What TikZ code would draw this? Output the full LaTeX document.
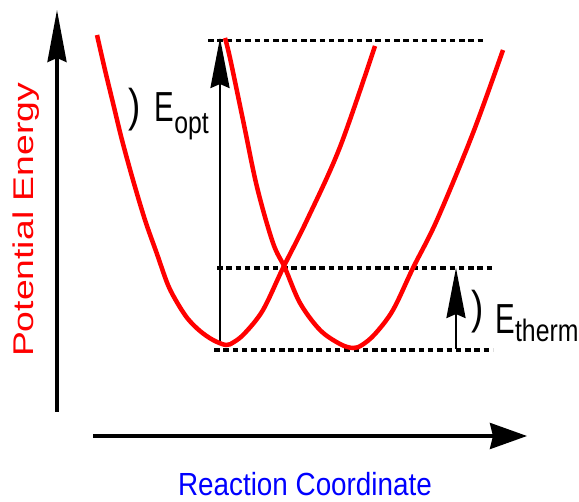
\documentclass[tikz,border=0pt]{standalone}
\usepackage{fontspec}
\setmainfont{Liberation Sans}
\newfontfamily\labfont[FakeStretch=0.8]{Liberation Sans}
\newfontfamily\efont[FakeStretch=0.7]{Liberation Sans}
\newfontfamily\xlabfont[FakeStretch=0.87]{Liberation Sans}
\newfontfamily\ylabfont[FakeStretch=1.31]{Liberation Sans}
\usetikzlibrary{arrows.meta}
\definecolor{pred}{RGB}{255,0,0}
\definecolor{pblue}{RGB}{0,0,255}
\begin{document}
\begin{tikzpicture}[x=1pt,y=-1pt,
  axisline/.style={line width=3.3pt},
  ytip/.style={-{Stealth[length=52pt,width=19pt,inset=4pt]}},
  xtip/.style={-{Stealth[length=37pt,width=26pt,inset=3pt]}},
  gapline/.style={line width=2.7pt,-{Stealth[length=50pt,width=19pt,inset=4pt]}},
  guide/.style={line width=3.5pt,dash pattern=on 5.5pt off 3.8pt},
  curve/.style={pred,line width=4.5pt},
  lab/.style={inner sep=0pt,anchor=base west}]
\useasboundingbox (0,0) rectangle (579,502);
% coordinates
\coordinate (ybot) at (57,412);
\coordinate (ytop) at (57,10);
\coordinate (xleft) at (93,436);
\coordinate (xright) at (527,436);
\coordinate (topL) at (208,40.5);
\coordinate (topR) at (484,40.5);
\coordinate (midL) at (217,268);
\coordinate (midR) at (493,268);
\coordinate (botL) at (214,350);
\coordinate (botR) at (493,350);
\coordinate (optB) at (220,341);
\coordinate (optT) at (220,38);
\coordinate (thB) at (456,349);
\coordinate (thT) at (456,268);
% axes
\draw[axisline,ytip] (ybot) -- (ytop);
\draw[axisline,xtip] (xleft) -- (xright);
% guide lines
\draw[guide] (topL) -- (topR);
\draw[guide] (midL) -- (midR);
\draw[guide] (botL) -- (botR);
% energy arrows
\draw[gapline] (optB) -- (optT);
\draw[gapline] (thB) -- (thT);
% curves
\draw[curve] plot[smooth,tension=0.55] coordinates {(97,35) (105,70) (113,103) (122,140) (133,180) (145,220) (157,254) (168,285) (178,304) (188,319) (200,331) (213,340) (226,345) (234,342) (245,333) (263,310) (283,268) (307,220) (340,147) (375,46)};
\draw[curve] plot[smooth,tension=0.55] coordinates {(225,38) (230,58) (243,120) (257,187) (273,243) (285,268) (300,303) (320,330) (340,344) (353,348) (362,345) (375,334) (393,310) (413,268) (437,220) (473,133) (503,50)};
% labels
\node[lab] (eopt) at (128,122) {{\labfont\fontsize{46}{46}\selectfont )}\hspace{14.3pt}{\efont\fontsize{42}{42}\selectfont E}\raisebox{-12pt}{\labfont\fontsize{31}{31}\selectfont opt}};
\node[lab] (etherm) at (471,334) {\raisebox{10pt}{\labfont\fontsize{46}{46}\selectfont )}\hspace{12pt}{\efont\fontsize{42}{42}\selectfont E}\raisebox{-8pt}{\labfont\fontsize{31}{31}\selectfont therm}};
\node[inner sep=0pt,anchor=base,rotate=90,text=pred] (ylab) at (33,220) {\ylabfont\fontsize{28.5}{28.5}\selectfont Potential Energy};
\node[inner sep=0pt,anchor=base,text=pblue] (xlab) at (305,495.5) {\xlabfont\fontsize{32}{32}\selectfont Reaction Coordinate};
\end{tikzpicture}
\end{document}
